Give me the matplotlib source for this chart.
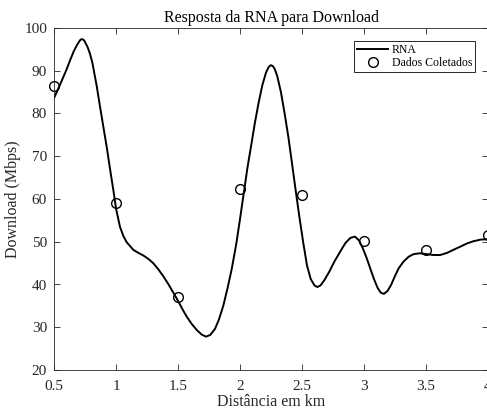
import matplotlib
matplotlib.use("Agg")
import matplotlib.pyplot as plt
from matplotlib.ticker import FuncFormatter

# Distância (km) e download medido
dist_coletada = [0.5, 1.0, 1.5, 2.0, 2.5, 3.0, 3.5, 4.0]
download_coletado = [86.4, 59.0, 37.0, 62.3, 60.9, 50.2, 48.1, 51.6]

# Saída da RNA amostrada ao longo da distância
dist_rna = [0.5, 0.548, 0.6, 0.629, 0.66, 0.683, 0.70, 0.712, 0.723, 0.735,
            0.745, 0.77, 0.79, 0.81, 0.844, 0.87, 0.898, 0.925, 0.952, 0.98,
            1.0, 1.032, 1.06, 1.086, 1.14, 1.18, 1.22, 1.26, 1.30, 1.34,
            1.38, 1.42, 1.46, 1.5, 1.54, 1.57, 1.61, 1.65, 1.69, 1.726,
            1.76, 1.798, 1.83, 1.865, 1.9, 1.933, 1.97, 2.0, 2.03, 2.06,
            2.09, 2.12, 2.15, 2.18, 2.21, 2.23, 2.247, 2.265, 2.28, 2.30,
            2.33, 2.36, 2.39, 2.42, 2.45, 2.48, 2.51, 2.54, 2.57, 2.60,
            2.624, 2.65, 2.68, 2.72, 2.76, 2.806, 2.85, 2.89, 2.927, 2.96,
            2.99, 3.02, 3.05, 3.08, 3.11, 3.135, 3.16, 3.19, 3.22, 3.25,
            3.28, 3.317, 3.36, 3.40, 3.45, 3.508, 3.56, 3.615, 3.67, 3.72,
            3.78, 3.83, 3.88, 3.94, 4.0]
download_rna = [83.6, 86.7, 90.2, 92.4, 94.6, 95.9, 96.7, 97.2, 97.4, 97.3,
                97.0, 95.6, 94.0, 91.8, 86.5, 81.8, 76.9, 72.2, 67.0, 61.8,
                57.8, 53.5, 51.3, 49.9, 48.1, 47.4, 46.8, 46.0, 45.0, 43.6,
                42.0, 40.2, 38.2, 36.2, 34.0, 32.5, 30.8, 29.4, 28.3, 27.8,
                28.2, 29.6, 31.8, 35.0, 39.2, 43.6, 49.5, 55.3, 61.3, 67.3,
                72.5, 77.8, 82.5, 86.6, 89.6, 90.8, 91.3, 91.1, 90.4, 88.8,
                85.0, 80.0, 74.5, 68.2, 61.8, 55.6, 49.8, 44.5, 41.3, 39.8,
                39.4, 39.8, 41.0, 43.0, 45.3, 47.6, 49.7, 50.9, 51.2, 50.3,
                48.5, 46.3, 43.8, 41.3, 39.2, 38.1, 37.8, 38.5, 40.0, 42.0,
                43.8, 45.3, 46.5, 47.1, 47.3, 47.1, 46.9, 46.9, 47.4, 48.1,
                48.9, 49.6, 50.1, 50.5, 50.6]

cinza = (0.15, 0.15, 0.15)
plt.rcParams["font.family"] = ["Liberation Serif", "DejaVu Serif"]

fig = plt.figure(figsize=(4.87, 4.11), dpi=100)
ax = fig.add_axes([54 / 487, 1 - 370 / 411, 434 / 487, 342 / 411])

ax.plot(dist_rna, download_rna, color="black", lw=1.4, label="RNA")
ax.plot(dist_coletada, download_coletado, "o", mfc="none", mec="black",
        ms=7, mew=1.0, label="Dados Coletados", clip_on=False)

ax.set_xlim(0.5, 4)
ax.set_ylim(20, 100)
ax.set_xticks([0.5, 1, 1.5, 2, 2.5, 3, 3.5, 4])
ax.set_yticks(range(20, 101, 10))
ax.xaxis.set_major_formatter(FuncFormatter(lambda v, p: "%g" % v))

for s in ax.spines.values():
    s.set_color(cinza)
    s.set_linewidth(0.6)
ax.tick_params(direction="in", top=True, right=True, length=4, width=0.6,
               color=cinza, labelcolor=cinza, labelsize=11)
ax.tick_params(axis="x", pad=7)
ax.tick_params(axis="y", pad=5)

ax.set_title("Resposta da RNA para Download", fontsize=11.5, color="black", pad=4)
ax.set_xlabel("Distância em km", fontsize=11.5, color=cinza, labelpad=1)
ax.set_ylabel("Download (Mbps)", fontsize=11.5, color=cinza, labelpad=2)

leg = ax.legend(loc="upper right", bbox_to_anchor=(0.970, 0.962),
                borderaxespad=0, fontsize=8.5, fancybox=False, framealpha=1,
                edgecolor=cinza, handlelength=2.6, handletextpad=0.3,
                labelspacing=0.1, borderpad=0.25)
leg.get_frame().set_linewidth(0.7)

fig.savefig("out.png", dpi=100)
